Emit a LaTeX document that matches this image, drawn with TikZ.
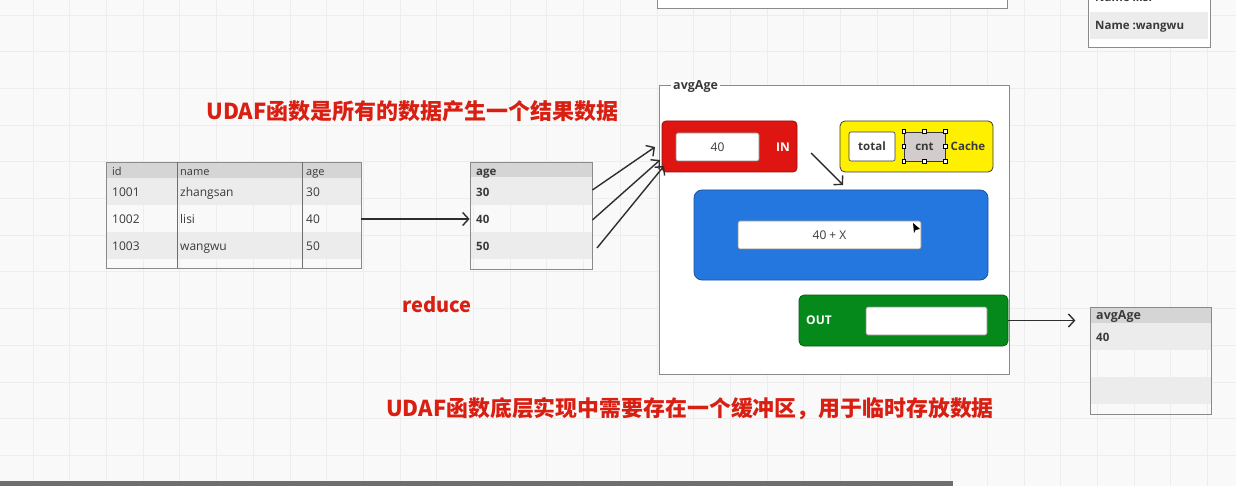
\documentclass[tikz,border=0pt]{standalone}
\usepackage{fontspec}
\setmainfont{Open Sans}
\newfontfamily\cjk{Noto Sans CJK SC}
\usepackage{xcolor}
\usetikzlibrary{arrows.meta}

\definecolor{fondo}{HTML}{F9F9F9}
\definecolor{lineagrid}{HTML}{EDEDED}
\definecolor{borde}{HTML}{8A8A8A}
\definecolor{cabecera}{HTML}{D5D5D5}
\definecolor{banda}{HTML}{ECECEC}
\definecolor{textogris}{HTML}{3A3A3A}
\definecolor{rojotxt}{HTML}{D91E12}
\definecolor{inrojo}{HTML}{DE1510}
\definecolor{amarillo}{HTML}{FFF000}
\definecolor{azul}{HTML}{2577E0}
\definecolor{verde}{HTML}{05891A}
\definecolor{cntgris}{HTML}{D2CCCC}
\definecolor{flechagris}{HTML}{2E2E2E}
\definecolor{scroll}{HTML}{6E6E6E}

\begin{document}
\begin{tikzpicture}[x=1pt,y=-1pt,
  flecha/.style={draw=flechagris, line width=1.4pt, -{Straight Barb[length=6pt,width=13pt]}},
  tabla/.style={draw=borde, line width=0.8pt, inner sep=0pt},
  columna/.style={draw=borde!80!black, line width=0.8pt},
  caja/.style={line width=0.8pt, inner sep=0pt},
  campo/.style={fill=white, draw=borde, line width=0.6pt, rounded corners=2pt, inner sep=0pt,
    font=\fontsize{12}{12}\selectfont, text=textogris},
  txt/.style={anchor=west, inner sep=0pt, text height=8.6pt, text depth=0pt, text=textogris, font=\fontsize{12}{12}\selectfont},
  txtb/.style={anchor=west, inner sep=0pt, text height=8.4pt, text depth=0pt, text=textogris, font=\bfseries\fontsize{11.5}{12}\selectfont},
  blanco/.style={inner sep=0pt, text=white, font=\bfseries\fontsize{12}{12}\selectfont},
  rojo/.style={inner sep=0pt, text=rojotxt},
  asa/.style={draw=black, fill=white, line width=0.6pt, inner sep=0pt, minimum size=3.6pt}]

\useasboundingbox (0,0) rectangle (1236,486);
\fill[fondo] (0,0) rectangle (1236,486);

%   fondo
\foreach \i in {0,...,33} \draw[lineagrid, line width=0.8pt] ({33+36.7*\i},0) -- ++(0,486);
\foreach \j in {0,...,12} \draw[lineagrid, line width=0.8pt] (0,{15+36.7*\j}) -- ++(1236,0);

%   cajas de arriba (cortadas)
\filldraw[white, draw=borde, line width=0.8pt] (657,-30) rectangle (1007,8);
\filldraw[white, draw=borde, line width=0.8pt] (1088,-40) rectangle (1210,47);
\fill[banda] (1090,12) rectangle (1208,39);
\node[txtb] (lisi) at (1095,-3) {Name :lisi};
\node[txtb] (wangwu) at (1095,25) {Name :wangwu};

%   textos
\node[rojo, font=\cjk\bfseries\fontsize{22}{22}\selectfont] (titulo) at (412.5,111) {UDAF函数是所有的数据产生一个结果数据};
\node[rojo, font=\cjk\bfseries\fontsize{20}{20}\selectfont] (reduce) at (437,305) {reduce};
\node[rojo, font=\cjk\bfseries\fontsize{21.9}{22}\selectfont] (nota) at (690,409) {UDAF函数底层实现中需要存在一个缓冲区，用于临时存放数据};

%   tabla origen
\fill[cabecera] (106,162) rectangle (361,178);
\fill[banda] (106,178) rectangle (361,205);
\fill[banda] (106,232) rectangle (361,259);
\node[tabla, minimum width=255pt, minimum height=106pt] (origen) at (233.5,215) {};
\draw[columna] (177,162) -- (177,268);
\draw[columna] (302,162) -- (302,268);
\node[txt, text height=7.9pt, font=\fontsize{11}{11}\selectfont] (hid) at (112,171.5) {id};
\node[txt, text height=7.9pt, font=\fontsize{11}{11}\selectfont] (hname) at (180,171.5) {name};
\node[txt, text height=7.9pt, font=\fontsize{11}{11}\selectfont] (hage) at (306,171.5) {age};
\node[txt] (id1) at (112,192) {1001};
\node[txt] (id2) at (112,219) {1002};
\node[txt] (id3) at (112,246) {1003};
\node[txt] (n1) at (180,192) {zhangsan};
\node[txt] (n2) at (180,219) {lisi};
\node[txt] (n3) at (180,246) {wangwu};
\node[txt] (e1) at (306,192) {30};
\node[txt] (e2) at (306,219) {40};
\node[txt] (e3) at (306,246) {50};

%   tabla age
\fill[cabecera] (470,162) rectangle (592,177);
\fill[banda] (470,177) rectangle (592,205);
\fill[banda] (470,232) rectangle (592,259);
\node[tabla, minimum width=122pt, minimum height=107pt] (edades) at (531,215.5) {};
\node[txtb] (ahead) at (476,171.5) {age};
\node[txtb] (a30) at (476,192) {30};
\node[txtb] (a40) at (476,219) {40};
\node[txtb] (a50) at (476,246) {50};

%   contenedor avgAge
\node[caja, fill=white, draw=borde, minimum width=350pt, minimum height=289pt] (udaf) at (834,229.5) {};
\node[txtb, font=\bfseries\fontsize{12.5}{13}\selectfont, fill=white, inner xsep=2pt, inner ysep=1pt] (udafnom) at (671,85) {avgAge};

% IN
\node[caja, fill=inrojo, draw=inrojo!70!black, rounded corners=4pt, minimum width=135pt, minimum height=51pt] (entrada) at (729.5,146.5) {};
\node[campo, minimum width=83pt, minimum height=28pt] (valor) at (717.5,147) {40};
\node[blanco] (inlbl) at (783,147) {IN};

% Cache
\node[caja, fill=amarillo, draw=textogris, rounded corners=5pt, minimum width=153pt, minimum height=51pt] (cache) at (916.5,146.5) {};
\node[campo, draw=textogris, font=\bfseries\fontsize{11.5}{12}\selectfont, minimum width=46pt, minimum height=29pt] (total) at (872,146.5) {total};
\node[caja, fill=cntgris, draw=textogris, text=textogris, font=\bfseries\fontsize{11.5}{12}\selectfont, minimum width=41pt, minimum height=29pt] (cnt) at (924.5,146.5) {cnt};
\foreach \a in {north west,north,north east,west,east,south west,south,south east}
  \node[asa] at (cnt.\a) {};
\node[txtb, anchor=center] (cachelbl) at (968,146) {Cache};

% proceso
\node[caja, fill=azul, draw=azul!70!black, rounded corners=8pt, minimum width=294pt, minimum height=90pt] (proceso) at (841,235) {};
\node[campo, minimum width=183pt, minimum height=28pt] (suma) at (829.5,235) {40 + X};
\fill[black] (913,223) -- (920,229) -- (915.5,230) -- (914,233) -- cycle;

% OUT
\node[caja, fill=verde, draw=verde!70!black, rounded corners=5pt, minimum width=209pt, minimum height=51pt] (salida) at (903.5,320.5) {};
\node[blanco, anchor=west] (outlbl) at (806,320) {OUT};
\node[campo, minimum width=121pt, minimum height=28pt] (resultado) at (926.5,321) {};

%   tabla resultado
\fill[cabecera] (1090,307) rectangle (1211,323);
\fill[banda] (1090,323) rectangle (1211,350);
\fill[banda] (1090,377) rectangle (1211,404);
\node[tabla, minimum width=121pt, minimum height=107pt] (final) at (1150.5,360.5) {};
\node[txtb, font=\bfseries\fontsize{12.5}{13}\selectfont] (fhead) at (1096,315.5) {avgAge};
\node[txtb] (f40) at (1096,337) {40};

%   flechas
\coordinate (in1) at (655,147);
\coordinate (in2) at (660,160);
\coordinate (in3) at (664,166);
\coordinate (ca1) at (811,153);
\coordinate (ca2) at (843,185);
\draw[flecha] (origen.east |- a40) -- (edades.west |- a40);
\draw[flecha] (edades.east |- 0,190) -- (in1);
\draw[flecha] (edades.east |- 0,220) -- (in2);
\draw[flecha] (597,248) -- (in3);
\draw[flecha] (ca1) -- (ca2);
\draw[flecha] (salida.east) -- ++(67,0);

%   barra inferior
\fill[scroll] (0,481) rectangle (953,486);
\end{tikzpicture}
\end{document}
